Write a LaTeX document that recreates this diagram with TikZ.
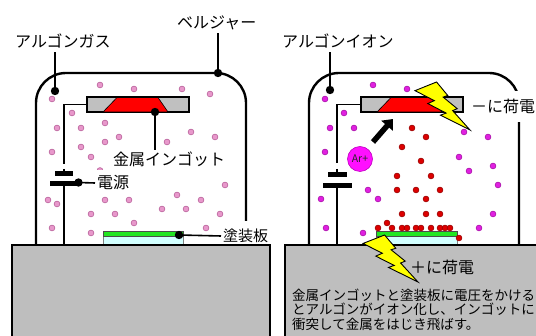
\documentclass[tikz,border=0pt]{standalone}
\usepackage{fontspec}
\setmainfont{Noto Sans CJK JP}
\usetikzlibrary{arrows.meta}

\definecolor{gaspink}{HTML}{E898CB}
\definecolor{gasrim}{HTML}{B8609A}
\definecolor{ionmag}{HTML}{E020E0}
\definecolor{ionrim}{HTML}{A810A8}
\definecolor{atomred}{HTML}{DD0000}
\definecolor{atomrim}{HTML}{990000}
\definecolor{holdgray}{HTML}{C0C0C0}
\definecolor{basegray}{HTML}{BEBEBE}
\definecolor{ingotred}{HTML}{FF0000}
\definecolor{coatgreen}{HTML}{22E622}
\definecolor{platecyan}{HTML}{D2FFFF}
\definecolor{boltyellow}{HTML}{FFFF00}
\definecolor{armag}{HTML}{FF10FF}
\definecolor{armagrim}{HTML}{C000C0}

% lightning bolt outline in a 100 x 100 box
\newcommand{\boltpath}{(39.22,0) -- (59.54,28.15) -- (51.16,31.47) -- (76.75,55.59)
  -- (68.37,59.62) -- (100,100) -- (46.35,69.05) -- (56.58,64.75) -- (23.25,44.93)
  -- (35.19,38.81) -- (0,18.01) -- cycle}

\begin{document}
\begin{tikzpicture}[x=1pt,y=-1pt,
  jar/.style={line width=2.4pt, rounded corners=30pt},
  wire/.style={line width=1.9pt},
  plate/.style={line width=4.5pt},
  lead/.style={line width=1.6pt},
  gasdot/.style={fill=gaspink, draw=gasrim, line width=0.6pt},
  iondot/.style={fill=ionmag, draw=ionrim, line width=0.6pt},
  atomdot/.style={fill=atomred, draw=atomrim, line width=0.6pt},
  holderbox/.style={draw, line width=1.3pt, fill=holdgray, minimum width=102pt,
    minimum height=15pt, inner sep=0pt},
  lbl/.style={font=\fontsize{16}{16}\selectfont, inner sep=2pt, text height=14pt,
    text depth=2pt, anchor=west},
  desc/.style={font=\fontsize{13.5}{13.5}\selectfont, inner sep=0pt,
    text height=11.9pt, text depth=1.6pt, anchor=west},
  boltshape/.style={fill=boltyellow, draw=black, line width=0.9pt, line join=miter}]
\useasboundingbox (0,0) rectangle (536,336);

% ---------------- bell jars ----------------
\draw[jar] (36,245) -- (36,73) -- (246,73) -- (246,245);
\draw[jar] (309,245) -- (309,73) -- (519,73) -- (519,245);

% ---------------- argon gas (left) ----------------
\foreach \p in {(100,85),(134,89),(182,89),(210,94),(52,99),(72,113),(105,123),
  (57,128),(81,128),(119,137),(105,142),(191,132),(215,137),(167,142),(52,152),
  (81,147),(91,157),(225,185),(48,200),(57,204),(105,200),(129,200),(177,195),
  (201,200),(91,214),(115,214),(162,209),(186,209),(220,214),(52,228),(91,233),
  (134,223),(206,228)}
  \filldraw[gasdot] \p circle[radius=2.9pt];
\begin{scope}
  \clip (94,160) rectangle (106,170);
  \filldraw[gasdot] (100,170.5) circle[radius=2.9pt];
\end{scope}

% ---------------- targets and holders ----------------
\node[holderbox] (holdL) at (138,104.5) {};
\filldraw[fill=ingotred, draw=black, line width=0.6pt]
  (103,112) -- (117,97.5) -- (158,97.5) -- (168,112) -- cycle;
\draw[line width=1.3pt] (holdL.south west) rectangle (holdL.north east);

\node[holderbox] (holdR) at (412,104.5) {};
\filldraw[fill=ingotred, draw=black, line width=0.6pt]
  (377,112) -- (391,97.5) -- (432,97.5) -- (442,112) -- cycle;
\draw[line width=1.3pt] (holdR.south west) rectangle (holdR.north east);

% ---------------- substrates ----------------
\filldraw[fill=platecyan, draw=gray, line width=0.6pt] (103,236) rectangle (183,245);
\filldraw[fill=coatgreen, draw=black!70, line width=0.6pt] (103,231) rectangle (183,236);
\filldraw[fill=platecyan, draw=gray, line width=0.6pt] (376,236) rectangle (457,245);
\filldraw[fill=coatgreen, draw=black!70, line width=0.6pt] (376,231) rectangle (457,236);

% ---------------- power supplies ----------------
\coordinate (wLa) at (64,164);   \coordinate (wLb) at (64,169);
\coordinate (pLt) at (64,173.5); \coordinate (pLb) at (64,183.5);
\coordinate (gL) at (64,245);
\draw[wire] (holdL.west) -| (wLa);
\draw[wire] (wLb) -- (pLt);
\draw[wire] (pLb) -- (gL);
\draw[plate] (55,173.5) -- (73,173.5);
\draw[plate] (50,183.5) -- (77,183.5);

\coordinate (wRa) at (337,163);  \coordinate (wRb) at (337,169);
\coordinate (pRt) at (337,174.5); \coordinate (pRb) at (337,185.5);
\coordinate (gR) at (337,245);
\draw[wire] (holdR.west) -| (wRa);
\draw[wire] (wRb) -- (pRt);
\draw[wire] (pRb) -- (gR);
\draw[plate] (328,174.5) -- (347,174.5);
\draw[plate] (323,185.5) -- (352,185.5);

% ---------------- argon ions and sputtered metal (right) ----------------
\foreach \p in {(373,85),(407,89),(325,99),(344,113),(330,128),(354,128),(464,132),
  (488,137),(325,152),(459,157),(469,171),(493,166),(498,185),(368,190),(378,199),
  (321,199),(493,214),(326,228),(363,233),(479,228)}
  \filldraw[iondot] \p circle[radius=2.9pt];
\foreach \p in {(412,128),(426,137),(402,147),(421,161),(397,176),(431,176),
  (397,190),(416,190),(440,190),(426,199),(402,214),(426,214),(440,214),(387,223),
  (378,228),(392,228),(402,228),(407,228),(416,228),(421,228),(431,228),(440,228),
  (445,228),(450,228),(459,238)}
  \filldraw[atomdot] \p circle[radius=2.9pt];

\node[circle, fill=armag, draw=armagrim, line width=0.6pt, minimum size=25pt,
  inner sep=0pt, font=\fontsize{10.5}{10.5}\selectfont, text=black!85] (arion) at (360,159) {Ar+};
\coordinate (arrTail) at (373,142);
\coordinate (arrTip) at (393,119);
\draw[line width=5.5pt, -{Triangle[length=9pt,width=15pt]}] (arrTail) -- (arrTip);

% ---------------- labels ----------------
\node[lbl] (tgas) at (13,42) {アルゴンガス};
\node[lbl] (tbell) at (175,23) {ベルジャー};
\node[lbl] (tingot) at (111,160) {金属インゴット};
\node[lbl] (tpow) at (95,183) {電源};
\node[lbl, fill=white, minimum height=30pt, font=\fontsize{15}{15}\selectfont] (tsub) at (221,236) {塗装板};
\node[lbl] (tion) at (280,42) {アルゴンイオン};
\node[lbl, fill=white, minimum height=31pt] (tneg) at (469,107) {－に荷電};

\coordinate (dgas) at (55,91);
\coordinate (dbell) at (218,73);
\coordinate (dingot) at (155,112);
\coordinate (dpow) at (78.5,182.5);
\coordinate (dsub) at (179,235);
\coordinate (dion) at (330,90);
\draw[lead] (dgas |- tgas.south) -- (dgas);
\draw[lead] (dbell |- tbell.south) -- (dbell);
\draw[lead] (dingot) -- (dingot |- tingot.north);
\draw[lead] (dpow) -- (tpow.west);
\draw[lead] (dsub) -- (tsub.west);
\draw[lead] (dion |- tion.south) -- (dion);
\foreach \d in {dgas,dbell,dingot,dpow,dsub,dion}
  \fill (\d) circle[radius=4.2pt];

% ---------------- bases ----------------
\filldraw[fill=basegray, draw=black, line width=1.5pt] (12,245) rectangle (270,345);
\filldraw[fill=basegray, draw=black, line width=1.5pt] (285,245) rectangle (545,345);

% ---------------- discharges ----------------
\begin{scope}[shift={(415,82)}, x=0.55pt, y=-0.48pt]
  \filldraw[boltshape] \boltpath;
\end{scope}
\begin{scope}[shift={(363,235)}, x=0.55pt, y=-0.47pt]
  \filldraw[boltshape] \boltpath;
\end{scope}

\node[lbl] (tpos) at (408,268) {＋に荷電};

% ---------------- caption ----------------
\node[desc] (desc1) at (292,295) {金属インゴットと塗装板に電圧をかける};
\node[desc] (desc2) at (292,309.5) {とアルゴンがイオン化し、インゴットに};
\node[desc] (desc3) at (292,324) {衝突して金属をはじき飛ばす。};
\end{tikzpicture}
\end{document}
